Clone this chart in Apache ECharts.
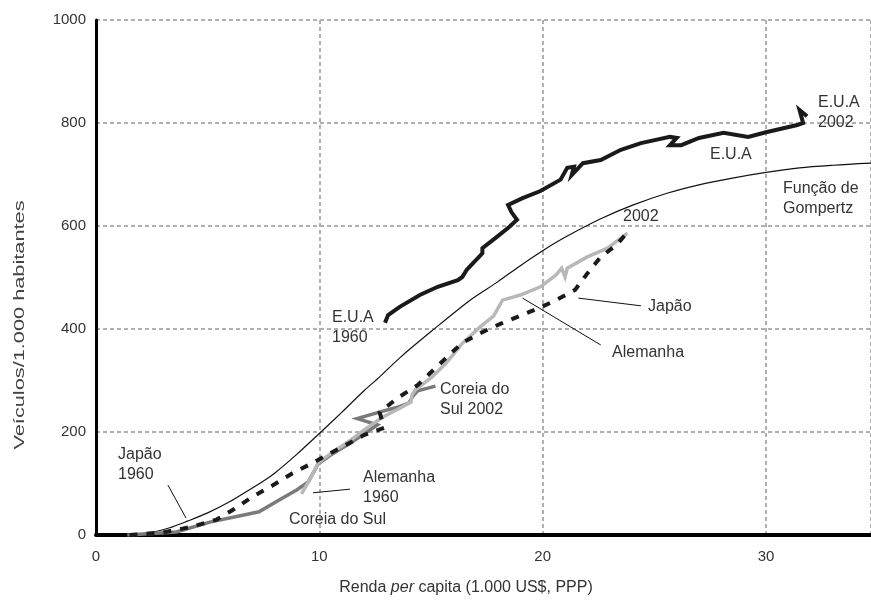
<!DOCTYPE html>
<html>
<head>
<meta charset="utf-8">
<script src="https://cdn.jsdelivr.net/npm/echarts@6/dist/echarts.min.js"></script>
<style>html,body{margin:0;padding:0;background:#fff}#c{width:871px;height:600px}</style>
</head>
<body>
<div id="c"></div>
<script>
// ---- data ----
var xTicks = [0, 10, 20, 30];
var yTicks = [0, 200, 400, 600, 800, 1000];

var gompertz = [[1.5,0],[2.5,5],[3.3,14],[4.1,27],[5,43],[6,65],[6.8,86],[7.5,105],[8,120],[9,157],[10,197],[11,238],[12,280],[12.7,307],[13.6,344],[15,395],[16.75,456],[18,492],[19,523],[20,552],[21,578],[22.6,614],[24,640],[25.6,664],[27,680],[28.5,693],[30,704],[31.5,713],[33,718],[34.7,722]];

var usa = [[12.94,412],[13.08,427],[13.6,443],[14.5,466],[15.3,482],[16.2,495],[16.4,501],[16.6,515],[17.3,547],[17.3,557],[17.95,579],[18.5,598],[18.85,612],[18.6,627],[18.45,641],[19.1,654],[19.9,668],[20.8,690],[21.1,713],[21.4,715],[21.3,699],[21.8,722],[22.6,728],[23.5,748],[24.4,761],[25.7,773],[26.0,771],[25.7,757],[26.2,757],[27.0,771],[28.1,781],[29.2,773],[30.0,782],[31.4,796],[31.66,800],[31.5,825],[31.84,813]];

var japan = [[1.5,0],[3,5],[4.3,16],[5.4,30],[6.1,48],[7.0,74],[7.9,96],[8.8,120],[9.7,140],[10.5,159],[11.2,175],[12.0,194],[12.9,208],[12.7,238],[13.5,266],[14.4,291],[15.0,316],[15.7,345],[16.4,373],[17.2,392],[18.1,410],[18.9,424],[19.8,440],[20.6,456],[21.45,476],[22.0,508],[22.6,540],[23.3,563],[23.8,588]];

var germany = [[9.2,80],[9.6,110],[9.95,140],[10.5,158],[11.4,184],[12.1,207],[12.85,229],[13.6,246],[14.1,258],[14.15,272],[14.3,282],[15.05,307],[15.7,335],[16.4,372],[17.2,404],[17.8,425],[18.2,456],[19.0,466],[19.9,482],[20.6,505],[20.85,518],[21.0,501],[21.1,518],[22.0,540],[22.9,557],[23.8,586]];

var korea = [[1.4,0],[3.6,6],[5.1,25],[7.3,45],[8.2,68],[9.0,88],[9.5,103],[9.95,138],[10.6,158],[11.3,176],[12.0,196],[12.6,214],[11.7,226],[12.8,240],[13.5,248],[14.0,256],[14.2,270],[14.4,280],[15.2,289]];

var leaders = [
  [[3.22,97],[4.03,33]],
  [[9.72,82],[11.37,89]],
  [[21.6,460],[24.4,445]],
  [[19.1,460],[22.6,369]]
];

var notes = [
  ["E.U.A\n2002", 818, 93],
  ["E.U.A", 710, 145],
  ["Função de\nGompertz", 783, 179],
  ["2002", 623, 207],
  ["Japão", 648, 297],
  ["Alemanha", 612, 343],
  ["E.U.A\n1960", 332, 308],
  ["Coreia do\nSul 2002", 440, 380],
  ["Japão\n1960", 118, 445],
  ["Alemanha\n1960", 363, 468],
  ["Coreia do Sul", 289, 510]
];

// ---- chart ----
var FONT = '"Liberation Sans", Arial, sans-serif';
var chart = echarts.init(document.getElementById('c'), null, {renderer: 'canvas'});

var graphics = notes.map(function (n) {
  return {type: 'text', x: n[1], y: n[2], z: 100,
    style: {text: n[0], fontSize: 16, lineHeight: 20, fontFamily: FONT, fill: '#333', verticalAlign: 'top'}};
});
graphics.push({type: 'text', x: 20, y: 325, rotation: Math.PI / 2, scaleX: 1.45, z: 100,
  style: {text: 'Veículos/1.000 habitantes', fontSize: 15, fontFamily: FONT, fill: '#444', align: 'center', verticalAlign: 'middle'}});
graphics.push({type: 'text', x: 466, y: 588, z: 100,
  style: {text: 'Renda {i|per} capita (1.000 US$, PPP)', fontSize: 16, fontFamily: FONT, fill: '#333', align: 'center', verticalAlign: 'middle',
    rich: {i: {fontStyle: 'italic', fontSize: 16, fontFamily: FONT, fill: '#333'}}}});

function lineSeries(data, color, width, type, z, smooth) {
  return {type: 'line', data: data, symbol: 'none', smooth: smooth || false, z: z, silent: true,
    lineStyle: {color: color, width: width, type: type || 'solid', cap: 'butt', join: 'miter'}};
}

var option = {
  animation: false,
  backgroundColor: '#fff',
  grid: {left: 96, top: 20, right: 0, bottom: 65},
  xAxis: {
    type: 'value', min: xTicks[0], max: 34.7, interval: xTicks[1] - xTicks[0],
    axisLine: {show: true, onZero: false, lineStyle: {color: '#000', width: 4}},
    axisTick: {show: false},
    axisLabel: {fontSize: 15, fontFamily: FONT, color: '#333', margin: 14, showMaxLabel: false,
      formatter: function (v) { return String(v); }},
    splitLine: {show: true, lineStyle: {color: '#b0b0b0', width: 2, type: [4, 3]}}
  },
  yAxis: {
    type: 'value', min: yTicks[0], max: yTicks[yTicks.length - 1], interval: yTicks[1] - yTicks[0],
    axisLine: {show: true, lineStyle: {color: '#000', width: 3}},
    axisTick: {show: false},
    axisLabel: {fontSize: 15, fontFamily: FONT, color: '#333', margin: 10,
      formatter: function (v) { return String(v); }},
    splitLine: {show: true, lineStyle: {color: '#b0b0b0', width: 2, type: [4, 3]}}
  },
  graphic: graphics,
  series: [
    lineSeries(gompertz, '#111', 1.2, 'solid', 2, 0.3),
    lineSeries(korea, '#7a7a7a', 3.5, 'solid', 3),
    lineSeries(germany, '#b8b8b8', 3.5, 'solid', 4),
    lineSeries(japan, '#1a1a1a', 4, [8, 9], 5),
    lineSeries(usa, '#1a1a1a', 4, 'solid', 6),
    {type: 'line', data: [], silent: true, z: 7,
      markLine: {silent: true, symbol: ['none', 'none'], label: {show: false}, animation: false,
        lineStyle: {color: '#111', width: 1, type: 'solid'},
        data: leaders.map(function (l) { return [{coord: l[0]}, {coord: l[1]}]; })}}
  ]
};
chart.setOption(option);
</script>
</body>
</html>
